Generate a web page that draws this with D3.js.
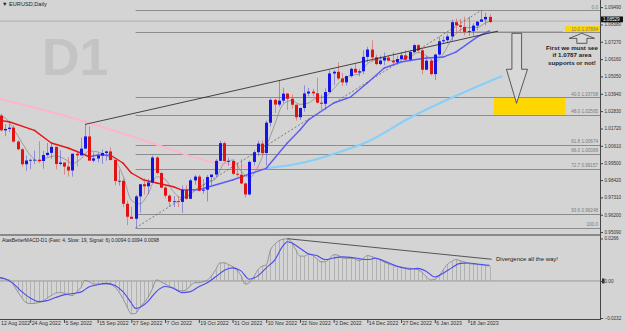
<!DOCTYPE html>
<html>
<head>
<meta charset="utf-8">
<script src="https://cdn.jsdelivr.net/npm/d3@7"></script>
<style>
  body { margin: 0; background: #d4d4d4; }
  svg { display: block; font-family: 'Liberation Sans', Arial, sans-serif; }
</style>
</head>
<body>
<svg id="chart" width="625" height="332"></svg>
<script>
// daily candles, 12 Aug 2022 .. 25 Jan 2023 : [open, high, low, close]
const candles = [
  [1.0321,1.0329,1.0234,1.0259],[1.0255,1.0267,1.0153,1.0160],[1.0160,1.0200,1.0122,1.0169],[1.0169,1.0202,1.0148,1.0177],
  [1.0177,1.0192,1.0081,1.0088],[1.0088,1.0096,1.0032,1.0039],[1.0039,1.0045,0.9927,0.9943],[0.9943,0.9998,0.9901,0.9967],
  [0.9967,0.9980,0.9912,0.9971],[0.9971,1.0030,0.9944,0.9972],[0.9972,1.0090,0.9950,0.9964],[0.9964,1.0028,0.9914,1.0002],
  [1.0002,1.0079,0.9993,1.0016],[1.0016,1.0080,0.9976,1.0054],[1.0054,1.0056,0.9910,0.9945],[0.9945,1.0033,0.9934,0.9954],
  [0.9954,0.9955,0.9877,0.9928],[0.9928,0.9988,0.9864,0.9903],[0.9903,1.0012,0.9864,1.0010],[1.0010,1.0030,0.9929,1.0000],
  [1.0000,1.0113,0.9997,1.0043],[1.0043,1.0198,1.0043,1.0121],[1.0121,1.0187,0.9966,0.9966],[0.9966,1.0019,0.9955,0.9980],
  [0.9980,1.0017,0.9955,0.9999],[0.9999,1.0037,0.9945,1.0015],[1.0015,1.0030,0.9966,1.0025],[1.0025,1.0051,0.9967,0.9970],
  [0.9970,0.9977,0.9809,0.9836],[0.9836,0.9907,0.9807,0.9837],[0.9837,0.9852,0.9670,0.9690],[0.9690,0.9710,0.9553,0.9607],
  [0.9607,0.9671,0.9593,0.9594],[0.9594,0.9747,0.9535,0.9737],[0.9737,0.9816,0.9633,0.9815],[0.9815,0.9853,0.9749,0.9802],
  [0.9802,0.9849,0.9751,0.9826],[0.9826,0.9999,0.9823,0.9986],[0.9986,0.9996,0.9876,0.9887],[0.9887,0.9895,0.9790,0.9793],
  [0.9793,0.9815,0.9725,0.9742],[0.9742,0.9749,0.9671,0.9704],[0.9704,0.9740,0.9670,0.9706],[0.9706,0.9741,0.9668,0.9702],
  [0.9702,0.9807,0.9632,0.9780],[0.9780,0.9809,0.9715,0.9722],[0.9722,0.9851,0.9720,0.9840],[0.9840,0.9875,0.9812,0.9864],
  [0.9864,0.9875,0.9768,0.9774],[0.9774,0.9848,0.9754,0.9780],[0.9780,0.9874,0.9705,0.9861],[0.9861,0.9876,0.9808,0.9877],
  [0.9877,0.9977,0.9860,0.9965],[0.9965,1.0094,0.9963,1.0078],[1.0078,1.0090,0.9962,0.9963],[0.9963,0.9986,0.9934,0.9964],
  [0.9964,0.9975,0.9873,0.9882],[0.9882,0.9955,0.9864,0.9876],[0.9876,0.9976,0.9815,0.9820],[0.9820,0.9825,0.9730,0.9750],
  [0.9750,0.9967,0.9742,0.9958],[0.9958,1.0033,0.9934,1.0020],[1.0020,1.0094,0.9995,1.0075],[1.0075,1.0096,1.0005,1.0015],
  [1.0015,1.0222,0.9935,1.0209],[1.0209,1.0365,1.0185,1.0355],[1.0355,1.0364,1.0270,1.0325],[1.0325,1.0481,1.0310,1.0350],
  [1.0350,1.0433,1.0334,1.0395],[1.0395,1.0400,1.0290,1.0362],[1.0362,1.0390,1.0300,1.0324],[1.0324,1.0325,1.0223,1.0244],
  [1.0244,1.0306,1.0226,1.0303],[1.0303,1.0448,1.0280,1.0396],[1.0396,1.0432,1.0378,1.0408],[1.0408,1.0426,1.0378,1.0397],
  [1.0397,1.0497,1.0332,1.0337],[1.0337,1.0388,1.0290,1.0330],[1.0330,1.0429,1.0290,1.0405],[1.0405,1.0545,1.0400,1.0524],
  [1.0524,1.0546,1.0450,1.0535],[1.0535,1.0595,1.0481,1.0492],[1.0492,1.0528,1.0444,1.0467],[1.0467,1.0510,1.0446,1.0507],
  [1.0507,1.0563,1.0498,1.0554],[1.0554,1.0588,1.0527,1.0530],[1.0530,1.0553,1.0506,1.0538],[1.0538,1.0673,1.0520,1.0630],
  [1.0630,1.0695,1.0595,1.0677],[1.0677,1.0736,1.0600,1.0627],[1.0627,1.0644,1.0575,1.0584],[1.0584,1.0638,1.0577,1.0607],
  [1.0607,1.0658,1.0577,1.0626],[1.0626,1.0640,1.0600,1.0606],[1.0606,1.0660,1.0574,1.0595],[1.0595,1.0637,1.0580,1.0616],
  [1.0616,1.0660,1.0610,1.0640],[1.0640,1.0674,1.0610,1.0612],[1.0612,1.0673,1.0600,1.0661],[1.0661,1.0714,1.0658,1.0705],
  [1.0705,1.0712,1.0654,1.0672],[1.0672,1.0684,1.0519,1.0548],[1.0548,1.0636,1.0545,1.0606],[1.0606,1.0619,1.0511,1.0520],
  [1.0520,1.0650,1.0483,1.0645],[1.0645,1.0760,1.0637,1.0730],[1.0730,1.0760,1.0713,1.0737],[1.0737,1.0778,1.0718,1.0761],
  [1.0761,1.0868,1.0734,1.0852],[1.0852,1.0875,1.0780,1.0832],[1.0832,1.0874,1.0784,1.0822],[1.0822,1.0887,1.0767,1.0790],
  [1.0790,1.0888,1.0765,1.0795],[1.0795,1.0845,1.0766,1.0830],[1.0830,1.0860,1.0801,1.0855],[1.0855,1.0927,1.0855,1.0870],
  [1.0870,1.0914,1.0832,1.0886],[1.0886,1.0904,1.0846,1.0853]
];

// date labels on the time axis, every 8th bar
const dateTicks = ['12 Aug 2022','24 Aug 2022','5 Sep 2022','15 Sep 2022','27 Sep 2022','7 Oct 2022','19 Oct 2022',
  '31 Oct 2022','10 Nov 2022','22 Nov 2022','2 Dec 2022','14 Dec 2022','27 Dec 2022','6 Jan 2023','18 Jan 2023'];

const priceTicks = [1.09490,1.08380,1.07270,1.06160,1.05050,1.03940,1.02830,1.01720,1.00610,0.99500,0.98420,0.97310,0.96200,0.95090];
const bidPrice = 1.08529;

// moving averages: [bar, price]
const fastMa = [[0,1.0257],[2,1.0241],[4,1.0171],[6,1.0083],[8,1.0002],[10,0.9963],[12,0.9985],[14,0.9996],[16,0.9979],
  [18,0.9948],[20,0.9977],[22,1.0028],[24,1.0022],[26,0.9997],[28,0.9969],[30,0.9872],[32,0.9713],[34,0.9689],[36,0.9755],
  [38,0.9863],[40,0.9847],[42,0.9766],[44,0.9727],[46,0.9750],[48,0.9796],[50,0.9824],[52,0.9851],[54,0.9949],[56,0.9970],
  [58,0.9901],[60,0.9857],[62,0.9925],[64,1.0055],[66,1.0196],[68,1.0327],[70,1.0351],[72,1.0326],[74,1.0335],[76,1.0368],
  [78,1.0375],[80,1.0426],[82,1.0485],[84,1.0511],[86,1.0519],[88,1.0586],[90,1.0611],[92,1.0624],[94,1.0604],[96,1.0617],
  [98,1.0625],[100,1.0658],[102,1.0638],[104,1.0598],[106,1.0648],[108,1.0745],[110,1.0801],[112,1.0818],[114,1.0818],
  [116,1.0847],[117,1.0859]];
const trendMa = [[0,1.0226],[3,1.0215],[9,1.0160],[13,1.0079],[17,1.0047],[20,1.0015],[22,0.9991],[24,1.0002],[27,1.0002],
  [30,0.9951],[32,0.9887],[35,0.9842],[38,0.9823],[42,0.9799],[44,0.9778],[48,0.9780],[56,0.9842],[64,0.9917],[69,1.0079],
  [72,1.0162],[74,1.0226],[80,1.0335],[84,1.0373],[88,1.0463],[92,1.0559],[96,1.0597],[98,1.0607],[102,1.0623],[106,1.0629],
  [109,1.0661],[114,1.0757],[117,1.0796]];
const slowMaDown = [[0,1.0369],[11,1.0290],[17,1.0247],[34,1.0105],[51,0.9959],[64,0.9917]];
const slowMaUp = [[64,0.9917],[72,0.9949],[80,1.0009],[88,1.0087],[98,1.0239],[120,1.0508]];

// fibonacci retracement, low 28 Sep 2022 -> high 23 Jan 2023
const fibFrom = [33, 0.95357], fibTo = [115, 1.09276];
const fibLevels = [
  ['0.0', 1.09276, ''], ['10.0', 1.07884, '1.07884'], ['40.0', 1.03708, '1.03708'], ['48.0', 1.02595, '1.02595'],
  ['61.8', 1.00674, '1.00674'], ['66.0', 1.00089, '1.00089'], ['72.7', 0.99157, '0.99157'], ['93.6', 0.96248, '0.96248'],
  ['100.0', 0.95357, '']
];
const trendLine = [[21, 1.0198], [119, 1.0795]];
const targetZone = [[118, 1.03708], [135, 1.02595]];
// hollow arrows drawn on the chart, in [bar, price]
const arrowDown = [[122.3,1.0781],[124.6,1.0781],[124.6,1.0551],[126.0,1.0551],[123.4,1.0333],[121.0,1.0551],[122.3,1.0551]];
const arrowUp = [[138.9,1.0781],[141.9,1.0749],[140.1,1.0749],[140.1,1.0717],[137.7,1.0717],[137.7,1.0749],[135.9,1.0749]];
const noteLines = ['First we must see', 'if 1.0787 area', 'supports or not!'];

// MACD (4,19,6) main line, one value per bar
const macdMain = [0.0023,0.0017,0.0012,0.0007,-0.0024,-0.0067,-0.0104,-0.0135,-0.0141,-0.0141,-0.0135,-0.0129,-0.0107,
  -0.0092,-0.0076,-0.0073,-0.0076,-0.0085,-0.0092,-0.0070,-0.0042,0.0004,-0.0005,-0.0019,-0.0019,-0.0019,-0.0019,-0.0022,
  -0.0036,-0.0067,-0.0110,-0.0163,-0.0206,-0.0203,-0.0166,-0.0135,-0.0101,-0.0048,0.0007,-0.0005,-0.0019,-0.0033,-0.0046,
  -0.0059,-0.0062,-0.0056,-0.0030,-0.0011,-0.0011,-0.0005,0.0004,0.0032,0.0069,0.0113,0.0114,0.0103,0.0091,0.0069,0.0034,
  -0.0020,-0.0011,0.0023,0.0069,0.0093,0.0100,0.0193,0.0230,0.0252,0.0261,0.0264,0.0243,0.0196,0.0156,0.0155,0.0168,
  0.0160,0.0140,0.0120,0.0120,0.0140,0.0165,0.0162,0.0145,0.0142,0.0142,0.0139,0.0127,0.0140,0.0159,0.0153,0.0144,0.0131,
  0.0119,0.0107,0.0098,0.0090,0.0087,0.0083,0.0080,0.0075,0.0071,0.0054,0.0026,0.0006,0.0011,0.0033,0.0069,0.0105,0.0122,
  0.0134,0.0127,0.0119,0.0111,0.0105,0.0104,0.0101,0.0097,0.0094];
const macdSignal = [[0,0.0023],[2,0.0014],[4,-0.0017],[6,-0.0067],[8,-0.0107],[10,-0.0129],[12,-0.0123],[14,-0.0104],
  [16,-0.0087],[18,-0.0079],[20,-0.0070],[22,-0.0036],[24,-0.0024],[26,-0.0015],[28,-0.0027],[30,-0.0067],[32,-0.0138],
  [33,-0.0172],[34,-0.0166],[36,-0.0126],[38,-0.0065],[40,-0.0035],[42,-0.0045],[44,-0.0073],[46,-0.0067],[48,-0.0036],
  [50,-0.0011],[52,0.0026],[54,0.0066],[56,0.0082],[58,0.0063],[60,0.0011],[62,0.0032],[64,0.0082],[66,0.0131],[68,0.0221],
  [69,0.0246],[70,0.0239],[72,0.0205],[74,0.0171],[76,0.0159],[78,0.0134],[80,0.0144],[82,0.0151],[84,0.0148],[86,0.0140],
  [88,0.0134],[90,0.0142],[92,0.0125],[94,0.0103],[96,0.0085],[98,0.0074],[100,0.0079],[102,0.0060],[104,0.0025],[106,0.0049],
  [108,0.0082],[110,0.0110],[112,0.0113],[114,0.0106],[117,0.0098]];
const macdTicks = [0.0266, 0, -0.0232];
const macdDivergence = [[69, 0.0265], [117.5, 0.0136]];

const svg = d3.select('#chart');
const W = 625, plotRight = 600, mainBottom = 234, subTop = 236, subBottom = 319;

const x = d3.scaleLinear().domain([0, 112]).range([-3.5, 468.5]);
const y = d3.scaleLinear().domain([0.94966, 1.09942]).range([mainBottom, 0]);
const ym = d3.scaleLinear().domain([-0.0232, 0.0266]).range([318, 238.5]);
const xy = d3.line().x(d => x(d[0])).y(d => y(d[1]));

svg.append('rect').attr('width', W).attr('height', 332).attr('fill', '#d4d4d4');

const defs = svg.append('defs');
defs.append('clipPath').attr('id', 'clipMain').append('rect').attr('width', plotRight).attr('height', mainBottom);
defs.append('clipPath').attr('id', 'clipSub').append('rect').attr('y', subTop).attr('width', plotRight).attr('height', subBottom - subTop);

const main = svg.append('g').attr('clip-path', 'url(#clipMain)');

// watermark
main.append('text').attr('x', 42).attr('y', 75).attr('font-size', 52).attr('font-weight', 'bold')
  .attr('fill', '#c4c4c4').text('D1');

// bid line
main.append('line').attr('x1', 0).attr('x2', plotRight).attr('y1', y(bidPrice) - 1).attr('y2', y(bidPrice) - 1)
  .attr('stroke', '#a4a4a4').attr('stroke-width', 0.8);

// fibonacci levels
const fibG = main.append('g');
fibG.selectAll('line').data(fibLevels).join('line')
  .attr('x1', x(fibFrom[0])).attr('x2', plotRight)
  .attr('y1', d => Math.round(y(d[1])) + 0.5).attr('y2', d => Math.round(y(d[1])) + 0.5)
  .attr('stroke', '#8c8c8c').attr('stroke-width', 1);
fibG.append('line')
  .attr('x1', x(fibFrom[0])).attr('y1', y(fibFrom[1])).attr('x2', x(fibTo[0])).attr('y2', y(fibTo[1]))
  .attr('stroke', '#555').attr('stroke-width', 0.7).attr('stroke-dasharray', '2,2');

// target zone and support line
main.append('rect')
  .attr('x', x(targetZone[0][0])).attr('y', y(targetZone[0][1]))
  .attr('width', x(targetZone[1][0]) - x(targetZone[0][0])).attr('height', y(targetZone[1][1]) - y(targetZone[0][1]))
  .attr('fill', '#ffd700');
main.append('line').attr('x1', x(111)).attr('x2', 563)
  .attr('y1', y(fibLevels[1][1])).attr('y2', y(fibLevels[1][1]))
  .attr('stroke', '#d9ae1a').attr('stroke-width', 1.6);
main.append('rect').attr('x', 565).attr('y', y(fibLevels[1][1]) - 6).attr('width', 35).attr('height', 6).attr('fill', '#ffd700');

// fib labels
fibG.selectAll('text').data(fibLevels).join('text')
  .attr('x', plotRight - 2).attr('y', d => y(d[1]) - 1.5)
  .attr('text-anchor', 'end').attr('font-size', 4.6).attr('fill', '#7a7a7a')
  .text(d => d[2] ? d[0] + '    ' + d[2] : d[0]);
fibG.raise();

// moving averages
const curved = d3.line().x(d => x(d[0])).y(d => y(d[1])).curve(d3.curveMonotoneX);
main.append('path').attr('d', curved(slowMaDown)).attr('fill', 'none').attr('stroke', '#ffb6c8').attr('stroke-width', 2);
main.append('path').attr('d', curved(slowMaUp)).attr('fill', 'none').attr('stroke', '#87cefa').attr('stroke-width', 2);
main.append('path').attr('d', curved(fastMa)).attr('fill', 'none').attr('stroke', '#8e8e8e').attr('stroke-width', 0.8);
for (let i = 1; i < trendMa.length; i++) {
  const seg = [trendMa[i - 1], trendMa[i]];
  main.append('path').attr('d', xy(seg)).attr('fill', 'none')
    .attr('stroke', seg[1][1] >= seg[0][1] ? '#5b5bf5' : '#e81515').attr('stroke-width', 1.4)
    .attr('stroke-linecap', 'round');
}

// candles
const cg = main.append('g');
candles.forEach((c, i) => {
  const [o, h, l, cl] = c;
  const up = cl >= o;
  const cx = Math.round(x(i)) + 0.5;
  cg.append('line').attr('x1', cx).attr('x2', cx).attr('y1', y(h)).attr('y2', y(l))
    .attr('stroke', up ? '#5050d8' : '#d84848').attr('stroke-opacity', 0.55).attr('stroke-width', 1);
  cg.append('rect').attr('x', cx - 1.5).attr('width', 3)
    .attr('y', y(Math.max(o, cl))).attr('height', Math.max(0.8, Math.abs(y(o) - y(cl))))
    .attr('fill', up ? '#1414e6' : '#e01212');
});

// trend line
main.append('path').attr('d', xy(trendLine)).attr('stroke', '#1e1e1e').attr('stroke-width', 0.8).attr('fill', 'none');

// arrows and note
[arrowDown, arrowUp].forEach(a => {
  main.append('path').attr('d', xy(a) + 'Z')
    .attr('fill', '#d8d8d8').attr('stroke', '#3a3a3a').attr('stroke-width', 0.8);
});
const note = main.append('text').attr('text-anchor', 'middle').attr('font-size', 6.2).attr('font-weight', 'bold').attr('fill', '#222');
noteLines.forEach((t, i) => {
  note.append('tspan').attr('x', 572).attr('y', 49.5 + i * 7.8).text(t);
});

// title
svg.append('text').attr('x', 2).attr('y', 6).attr('font-size', 5.6).attr('fill', '#222').text('\u25BC EURUSD,Daily');

// price axis
svg.append('line').attr('x1', plotRight + 0.5).attr('x2', plotRight + 0.5).attr('y1', 0).attr('y2', subBottom + 1)
  .attr('stroke', '#444').attr('stroke-width', 1);
const pAxis = svg.append('g').attr('transform', `translate(${plotRight + 1},0)`)
  .call(d3.axisRight(y).tickValues(priceTicks).tickFormat(d3.format('.5f')).tickSize(2).tickPadding(1.5));
pAxis.select('.domain').remove();
pAxis.selectAll('text').attr('font-size', 4.6).attr('fill', '#333').attr('font-family', 'Liberation Sans, Arial');
pAxis.selectAll('line').attr('stroke', '#444');

svg.append('rect').attr('x', plotRight + 1).attr('y', y(bidPrice) - 5.6).attr('width', 22).attr('height', 5.8).attr('fill', '#111');
svg.append('text').attr('x', plotRight + 3).attr('y', y(bidPrice) - 1.2).attr('font-size', 4.6).attr('fill', '#fff').text(d3.format('.5f')(bidPrice));

// pane separator
svg.append('rect').attr('x', 0).attr('y', mainBottom).attr('width', plotRight).attr('height', subTop - mainBottom).attr('fill', '#8a8a8a');

// MACD pane
const sub = svg.append('g').attr('clip-path', 'url(#clipSub)');
sub.append('line').attr('x1', 0).attr('x2', plotRight).attr('y1', ym(0)).attr('y2', ym(0)).attr('stroke', '#9a9a9a').attr('stroke-width', 1);
sub.selectAll('line.h').data(macdMain).join('line').attr('class', 'h')
  .attr('x1', (d, i) => Math.round(x(i)) + 0.5).attr('x2', (d, i) => Math.round(x(i)) + 0.5)
  .attr('y1', ym(0)).attr('y2', d => ym(d)).attr('stroke', '#a2a2a2').attr('stroke-width', 0.7);
const mline = d3.line().x((d, i) => x(i)).y(d => ym(d)).curve(d3.curveMonotoneX);
sub.append('path').attr('d', mline(macdMain)).attr('fill', 'none').attr('stroke', '#8a8a8a').attr('stroke-width', 0.9);
sub.append('path').attr('d', d3.line().x(d => x(d[0])).y(d => ym(d[1])).curve(d3.curveMonotoneX)(macdSignal))
  .attr('fill', 'none').attr('stroke', '#4b4bf0').attr('stroke-width', 1.1);
sub.append('line').attr('x1', x(macdDivergence[0][0])).attr('y1', ym(macdDivergence[0][1]))
  .attr('x2', x(macdDivergence[1][0])).attr('y2', ym(macdDivergence[1][1])).attr('stroke', '#333').attr('stroke-width', 0.8);
sub.append('text').attr('x', 496).attr('y', 261).attr('font-size', 6).attr('fill', '#222').text('Divergence all the way!');

svg.append('text').attr('x', 2).attr('y', 241.5).attr('font-size', 4.9).attr('fill', '#222')
  .text('AtasBetterMACD-D1 (Fast: 4, Slow: 19, Signal: 6) 0.0094 0.0094 0.0098');

const mAxis = svg.append('g').attr('transform', `translate(${plotRight + 1},0)`)
  .call(d3.axisRight(ym).tickValues(macdTicks).tickFormat(d => d === 0 ? '0.00' : d3.format('.4f')(d)).tickSize(2).tickPadding(1.5));
mAxis.select('.domain').remove();
mAxis.selectAll('text').attr('font-size', 4.6).attr('fill', '#333').attr('font-family', 'Liberation Sans, Arial');
mAxis.selectAll('line').attr('stroke', '#444');
svg.append('rect').attr('x', plotRight + 2).attr('y', ym(0) - 2.5).attr('width', 2.5).attr('height', 5).attr('fill', '#333');

// time axis
svg.append('line').attr('x1', 0).attr('x2', plotRight).attr('y1', subBottom + 0.5).attr('y2', subBottom + 0.5).attr('stroke', '#444');
const tAxis = svg.append('g').attr('transform', `translate(0,${subBottom + 1})`)
  .call(d3.axisBottom(x).tickValues(dateTicks.map((d, i) => i * 8)).tickFormat((d, i) => dateTicks[i]).tickSize(3));
tAxis.select('.domain').remove();
tAxis.selectAll('text').attr('font-size', 5.2).attr('fill', '#333').attr('text-anchor', 'start')
  .attr('dx', (d, i) => i === 0 ? 4 : 1).attr('dy', -1.5).attr('font-family', 'Liberation Sans, Arial');
tAxis.selectAll('line').attr('stroke', '#444');
</script>
</body>
</html>
